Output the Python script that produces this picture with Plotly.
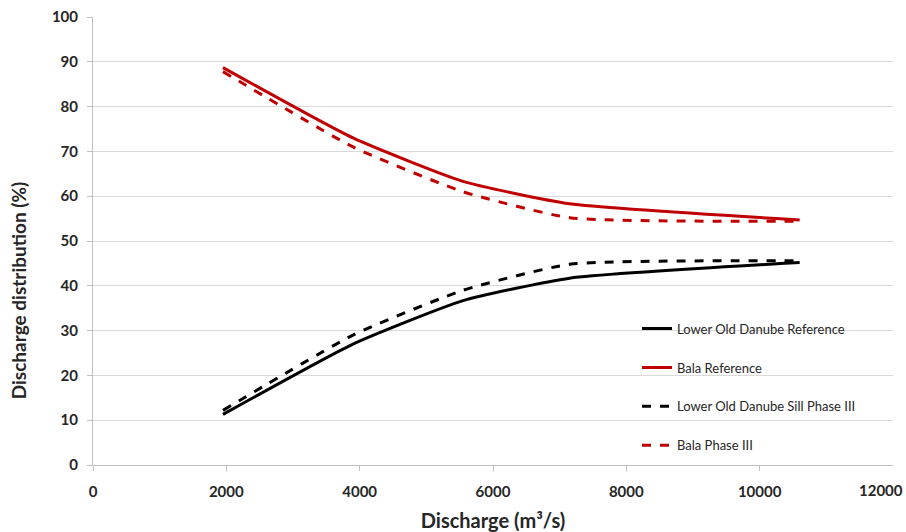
import plotly.graph_objects as go

discharge = [1950, 3900, 5550, 7150, 10600]
lod_ref = [11.3, 27.0, 36.7, 41.7, 45.2]
bala_ref = [88.7, 73.0, 63.3, 58.3, 54.7]
lod_p3 = [12.2, 29.0, 39.0, 44.8, 45.6]
bala_p3 = [87.8, 71.0, 61.0, 55.2, 54.4]

names = ["Lower Old Danube Reference", "Bala Reference",
         "Lower Old Danube Sill Phase III", "Bala Phase III"]
series = [lod_ref, bala_ref, lod_p3, bala_p3]
colors = ["#000000", "#C00000", "#000000", "#C00000"]
dashes = ["solid", "solid", "dash", "dash"]
x_ticks = [0, 2000, 4000, 6000, 8000, 10000, 12000]

fig = go.Figure()
for i, (n, s, c, d) in enumerate(zip(names, series, colors, dashes)):
    fig.add_trace(go.Scatter(
        x=discharge, y=s, name=n, mode="lines",
        line=dict(color=c, width=3, dash=d, shape="spline", smoothing=0.5),
        legendgroup=str(i),
    ))

font_family = "Lato, 'Open Sans', sans-serif"
tick_font = dict(size=15, color="#262626", family=font_family, weight="bold")

# last x tick label sits at the page edge
fig.add_annotation(x=1, y=0, xref="paper", yref="paper", xanchor="right",
                   yanchor="middle", xshift=12, yshift=-25,
                   text="<b>" + str(x_ticks[-1]) + "</b>", showarrow=False,
                   font=dict(size=15, color="#262626", family=font_family))
# y axis title (placed like the reference, below the plot centre)
fig.add_annotation(x=0, y=0.39, xref="paper", yref="paper", xanchor="center",
                   yanchor="middle", xshift=-75, textangle=-90,
                   text="<b>Discharge distribution (%)</b>", showarrow=False,
                   font=dict(size=19, color="#262626", family=font_family))

fig.update_layout(
    width=906, height=532,
    margin=dict(l=93, r=13, t=17, b=67),
    plot_bgcolor="white", paper_bgcolor="white",
    font=dict(family=font_family, color="#262626"),
    legend=dict(x=0.68, y=0.338, xanchor="left", yanchor="top",
                font=dict(size=13, color="#262626"),
                tracegroupgap=19, bgcolor="rgba(0,0,0,0)"),
    xaxis=dict(range=[0, 12000], tickvals=x_ticks[:-1],
               ticktext=[str(v) for v in x_ticks[:-1]],
               showgrid=False, showline=True, linecolor="#BFBFBF", linewidth=1,
               ticks="outside", ticklen=5, tickcolor="#BFBFBF",
               tickfont=tick_font, ticklabelstandoff=8, automargin=False,
               title=dict(text="Discharge (m³/s)", standoff=14,
                          font=dict(size=20, color="#262626", family=font_family, weight="bold")),
               zeroline=False),
    yaxis=dict(range=[0, 100], dtick=10,
               showgrid=True, gridcolor="#D9D9D9", gridwidth=1,
               showline=True, linecolor="#BFBFBF", linewidth=1,
               ticks="outside", ticklen=5, tickcolor="#BFBFBF",
               tickfont=tick_font, ticklabelstandoff=6, automargin=False,
               zeroline=False),
)

fig.write_html("out.html")
